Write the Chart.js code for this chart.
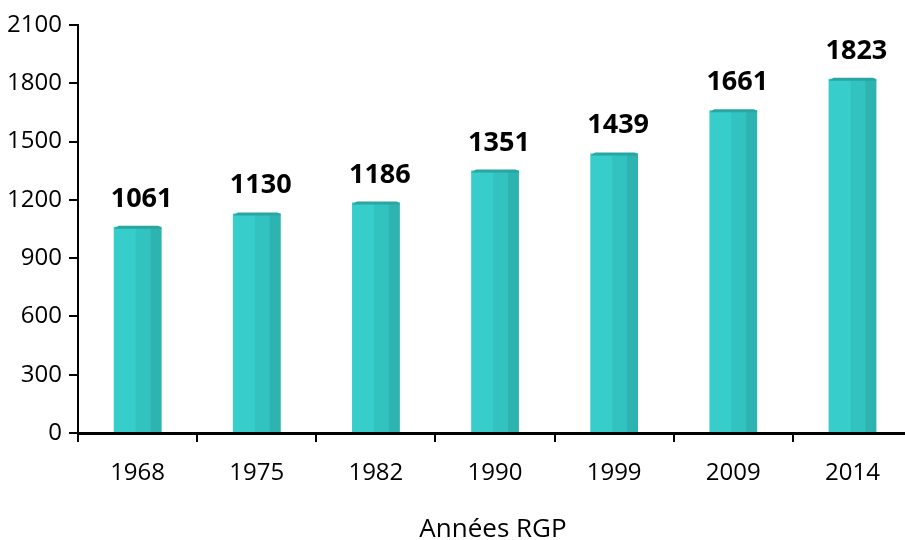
<!DOCTYPE html>
<html lang="fr">
<head>
    <meta charset="UTF-8" />
    <title>Population RGP</title>
    <script src="https://cdn.jsdelivr.net/npm/chart.js"></script>
    <style>
        html, body {
            margin: 0;
            padding: 0;
            background: #ffffff;
            overflow: hidden;
        }

        #wrap {
            position: relative;
            width: 914px;
            height: 540px;
        }

        #x-title {
            position: absolute;
            left: 493px;
            top: 509px;
            transform: translateX(-50%);
            font: 26px "Open Sans", sans-serif;
            color: #000;
            white-space: nowrap;
        }
    </style>
</head>
<body>
    <div id="wrap">
        <canvas id="chart"></canvas>
        <div id="x-title">Années RGP</div>
    </div>

    <script>
        const years = ["1968", "1975", "1982", "1990", "1999", "2009", "2014"];
        const population = [1061, 1130, 1186, 1351, 1439, 1661, 1823];
        const yMax = 2100;
        const yStep = 300;

        const FRONT = "#36cdcb";
        const MIDDLE = "#32c3c1";
        const SIDE = "#2db4b0";
        const TOP = "#29a6a2";

        // fake 3D shading on each bar, then the bold value on top
        const barShading = {
            id: "barShading",
            afterDatasetsDraw(chart) {
                const ctx = chart.ctx;
                const meta = chart.getDatasetMeta(0);
                ctx.save();
                meta.data.forEach((bar, i) => {
                    const { x, y, base, width } = bar.getProps(["x", "y", "base", "width"], true);
                    const left = x - width / 2;
                    const h = base - y;

                    ctx.fillStyle = MIDDLE;
                    ctx.fillRect(left + width * 0.46, y, width * 0.31, h);
                    ctx.fillStyle = SIDE;
                    ctx.fillRect(left + width * 0.77, y, width * 0.23, h);

                    ctx.fillStyle = TOP;
                    ctx.beginPath();
                    ctx.moveTo(left, y + 2);
                    ctx.lineTo(left + 5, y - 1);
                    ctx.lineTo(left + width - 3, y - 1);
                    ctx.lineTo(left + width, y + 1);
                    ctx.lineTo(left + width, y + 2);
                    ctx.closePath();
                    ctx.fill();

                    ctx.fillStyle = "#000";
                    ctx.font = 'bold 27px "Open Sans", sans-serif';
                    ctx.textAlign = "center";
                    ctx.textBaseline = "alphabetic";
                    ctx.fillText(String(population[i]), x + 4, y - 20);
                });
                ctx.restore();
            }
        };

        const ctx = document.getElementById("chart").getContext("2d");
        new Chart(ctx, {
            type: "bar",
            data: {
                labels: years,
                datasets: [{
                    data: population,
                    backgroundColor: FRONT,
                    borderWidth: 0,
                    barPercentage: 0.4,
                    categoryPercentage: 1.0
                }]
            },
            options: {
                responsive: true,
                maintainAspectRatio: false,
                animation: false,
                layout: {
                    padding: { top: 25, right: 2, left: 0, bottom: 0 }
                },
                plugins: {
                    legend: { display: false },
                    tooltip: { enabled: false }
                },
                scales: {
                    x: {
                        z: 1,
                        offset: true,
                        afterFit(scale) { scale.height = 107; },
                        border: { display: true, color: "#000", width: 3 },
                        grid: {
                            offset: true,
                            drawOnChartArea: false,
                            drawTicks: true,
                            tickLength: 9,
                            color: "#000",
                            lineWidth: 2
                        },
                        ticks: {
                            color: "#000",
                            padding: 17,
                            font: { family: "Open Sans", size: 24 }
                        }
                    },
                    y: {
                        min: 0,
                        max: yMax,
                        afterFit(scale) { scale.width = 78; },
                        border: { display: true, color: "#000", width: 2 },
                        grid: {
                            drawOnChartArea: false,
                            drawTicks: true,
                            tickLength: 9,
                            color: "#000",
                            lineWidth: 2
                        },
                        ticks: {
                            stepSize: yStep,
                            color: "#000",
                            padding: 7,
                            font: { family: "Open Sans", size: 24 },
                            callback: v => String(v)
                        }
                    }
                }
            },
            plugins: [barShading]
        });
    </script>
</body>
</html>
